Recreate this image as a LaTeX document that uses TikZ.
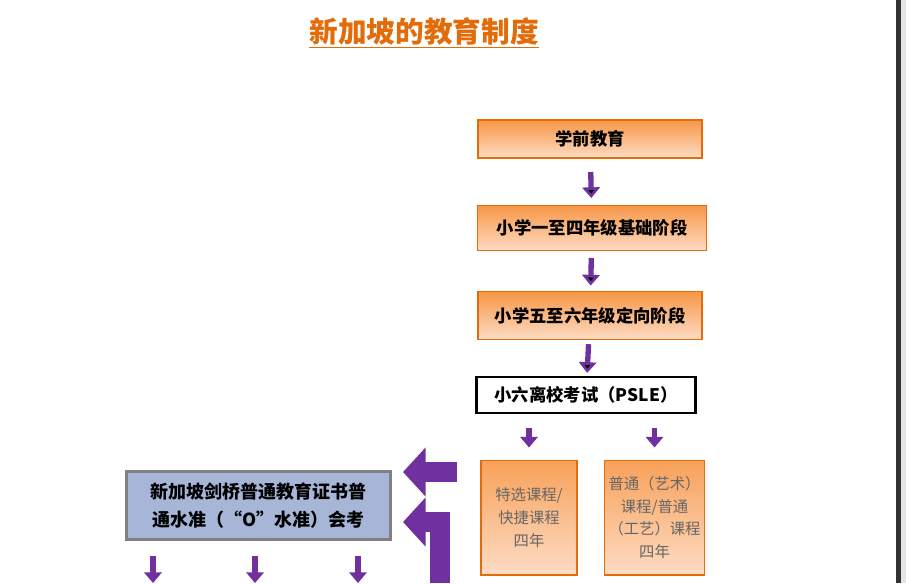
\documentclass[tikz,border=0pt]{standalone}
\usepackage{fontspec}
\setmainfont{Noto Sans CJK SC}
\usetikzlibrary{arrows.meta}
\usetikzlibrary{positioning}

\definecolor{titleorange}{HTML}{E36C0A}
\definecolor{boxorange}{HTML}{F79646}
\definecolor{lightorange}{HTML}{FDDCC4}
\definecolor{flowpurple}{HTML}{7030A0}
\definecolor{examblue}{HTML}{A7B5D7}

\tikzset{
  stagebox/.style={draw=titleorange,line width=1pt,top color=boxorange,bottom color=lightorange,
    minimum height=#1,font=\bfseries\fontsize{13}{15}\selectfont,inner sep=0pt},
  trackbox/.style={draw=titleorange,line width=1pt,top color=boxorange!90,bottom color=lightorange,
    minimum width=72pt,minimum height=86pt,font=\fontsize{11.5}{17}\selectfont,text=black!60,align=center,inner sep=0pt},
  smallflow/.style={draw=flowpurple,line width=4pt,-{Triangle[width=13pt,length=8pt]}},
  bigflow/.style={draw=flowpurple,line width=15pt,-{Triangle[width=36pt,length=17pt]}}
}

\begin{document}
\begin{tikzpicture}[x=0.75pt,y=-0.75pt]
  \useasboundingbox (0,0) rectangle (906,583);
  \fill[black!10] (896,0) rectangle (906,583);
  \fill[black!80] (896,0) rectangle (901,583);

  \node (title) at (424,33) {\textcolor{titleorange}{\bfseries\fontsize{21.5}{24}\selectfont\underline{新加坡的教育制度}}};

  \node [stagebox=28.5pt,minimum width=168pt] (pre) at (590,139) {学前教育};
  \node [stagebox=34pt,minimum width=172pt] (p14) at (592,228) {小学一至四年级基础阶段};
  \node [stagebox=36pt,minimum width=168pt] (p56) at (590,315.5) {小学五至六年级定向阶段};
  \node [draw,line width=2.2pt,fill=white,minimum width=164pt,minimum height=27pt,
    font=\bfseries\fontsize{13}{15}\selectfont,inner sep=0pt] (psle) at (586,395) {小六离校考试（PSLE）};

  \node [trackbox] (express) at (529,517.5) {特选课程/\\快捷课程\\四年};
  \node [trackbox,minimum width=75pt] (normal) at (654.5,517.5) {普通（艺术）\\课程/普通\\（工艺）课程\\四年};

  \node [draw=black!50,line width=2pt,fill=examblue,minimum width=198pt,minimum height=51pt,align=center,
    font=\bfseries\fontsize{13.5}{21}\selectfont,inner sep=0pt] (olevel) at (258.5,505.5)
    {新加坡剑桥普通教育证书普\\通水准（“O”水准）会考};

  \path [smallflow]
    (pre) edge [shorten <=10pt,shorten >=5pt] (p14)
    (p14) edge [shorten <=5pt,shorten >=4pt] (p56)
    (p56) edge [shorten <=3pt,shorten >=2pt] (psle);
  \draw [smallflow,shorten <=10pt,shorten >=9pt] (psle.south -| express) -- (express);
  \draw [smallflow,shorten <=10pt,shorten >=9pt] (psle.south -| normal) -- (normal);

  \coordinate (fromexpress) at (457,472);
  \coordinate (toexam) at (403,472);
  \coordinate (fromnormal) at (440,583);
  \coordinate (bend) at (440,522);
  \draw [bigflow] (fromexpress) -- (toexam);
  \draw [bigflow] (fromnormal) -- (bend) -- (toexam |- bend);

  \foreach \x/\n in {153/a,255/b,358/c} {
    \coordinate (below\n) at (\x,583);
    \draw [smallflow,shorten <=11pt] (olevel.south -| below\n) -- (below\n);
  }
\end{tikzpicture}
\end{document}
